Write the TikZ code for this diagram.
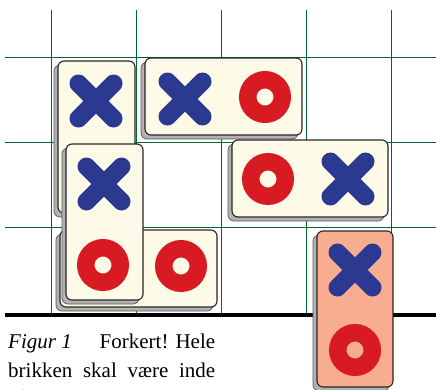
\documentclass[tikz,border=0pt]{standalone}
\usepackage{fontspec}
\setmainfont{Liberation Serif}
\usetikzlibrary{calc}
\definecolor{gitter}{RGB}{0,102,51}
\definecolor{creme}{RGB}{253,250,232}
\definecolor{laks}{RGB}{248,173,145}
\definecolor{blaa}{RGB}{44,57,145}
\definecolor{roed}{RGB}{216,27,35}
\definecolor{skygge}{RGB}{178,178,178}
\def\brikke[#1](#2,#3)(#4,#5){%
  \draw[fill=skygge, draw=black!65, line width=0.7pt, rounded corners=6pt] (#2-4,#3+4) rectangle (#4-4,#5+4);
  \draw[fill=#1, draw=black!85, line width=1.1pt, rounded corners=6pt] (#2,#3) rectangle (#4,#5);}
\def\kryds(#1,#2){\draw[blaa, line width=18pt, line cap=round] (#1-17.5,#2-17.5) -- (#1+17.5,#2+17.5) (#1-17.5,#2+17.5) -- (#1+17.5,#2-17.5);}
\def\bolle(#1,#2){\draw[roed, line width=17.5pt] (#1,#2) circle (17.25pt);}
\def\linje#1{\makebox[207pt][s]{#1}}

\begin{document}
\begin{tikzpicture}[x=1pt,y=-1pt]
			\useasboundingbox (0,0) rectangle (436,389);
			
			% gitter
			\foreach \x in {51,136,221,306,391}
				\draw[gitter, line width=1pt] (\x,10) -- (\x,315);
			\foreach \y in {57,142,227}
				\draw[gitter, line width=1pt] (5,\y) -- (436,\y);
			\draw[line width=4.5pt] (5,315) -- (436,315);
			
			% brikker
			\brikke[creme](58,61)(135,213)
			\kryds(96,101)
			
			\brikke[creme](145,58)(302,135)
			\kryds(185,99)
			\bolle(265,97)
			
			\brikke[creme](232,140)(388,217)
			\bolle(268,179)
			\kryds(348,179)
			
			\brikke[creme](60,230)(217,307)
			\bolle(181,266)
			
			\brikke[creme](66,144)(143,300)
			\kryds(104,184)
			\bolle(103,265)
			
			\brikke[laks](317,231)(393,387)
			\kryds(355,270)
			\bolle(355,350)
			
			% tekst
			\node[anchor=north west, inner sep=0pt, align=left,
				font=\fontsize{21}{28.5}\selectfont] (tekst) at (8,334)
				{\linje{\textit{Figur~1}\hspace{0.6em plus 1fil}Forkert! Hele}\\
				 \linje{brikken skal være inde}\\
				 på spillepladen.};
			
		\end{tikzpicture}
\end{document}
